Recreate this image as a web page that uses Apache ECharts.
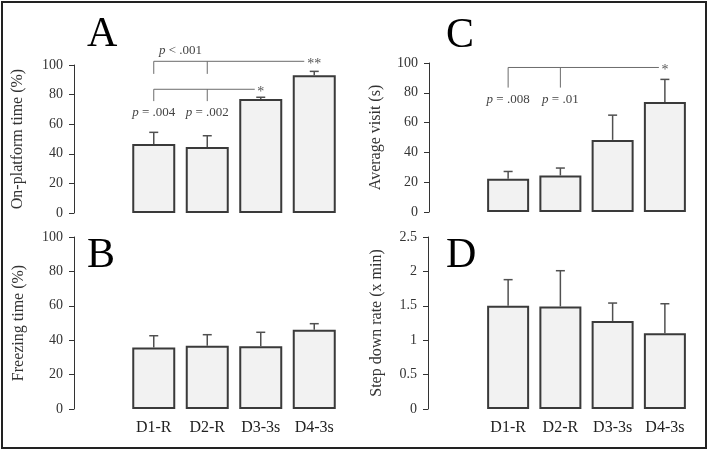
<!DOCTYPE html>
<html>
<head>
<meta charset="utf-8">
<script src="https://cdn.jsdelivr.net/npm/echarts@6/dist/echarts.min.js"></script>
<style>
  html, body { margin: 0; padding: 0; background: #fff; }
  #main { width: 709px; height: 452px; }
</style>
</head>
<body>
<div id="main"></div>
<script>
// data
var categories = ['D1-R', 'D2-R', 'D3-3s', 'D4-3s'];

var onPlatform = [46.6, 44.6, 77.0, 93.0];     // A
var onPlatformErr = [54.5, 52.2, 78.2, 95.7];
var freezing = [35.7, 36.8, 36.5, 46.1];       // B
var freezingErr = [42.6, 43.2, 44.6, 49.6];
var avgVisit = [22.3, 24.5, 48.4, 73.9];       // C
var avgVisitErr = [27.2, 29.5, 65.0, 89.0];
var stepDown = [1.50, 1.49, 1.28, 1.10];       // D
var stepDownErr = [1.88, 2.01, 1.54, 1.53];

var ticksPct = [0, 20, 40, 60, 80, 100];
var ticksRate = [0, 0.5, 1, 1.5, 2, 2.5];

// significance brackets: [fromCat, midCat, toCat, level, dropTo]
var bracketA = [[0, 1, 3, 102.5, 94], [0, 1, 2, 83.6, 75.6]];
var bracketMarkA = ['**', '*'];
var bracketC = [[0, 1, 3, 97, 83.5]];
var bracketMarkC = ['*'];
// p value labels: [catA, catB, level] -> centred between the two categories
var pPosA = [[0, 1, 109.5], [0, 0, 68], [1, 1, 68]];
var pTextA = ['p < .001', 'p = .004', 'p = .002'];
var pPosC = [[0, 0, 75.2], [1, 1, 75.2]];
var pTextC = ['p = .008', 'p = .01'];

var serif = '"Liberation Serif", "Times New Roman", serif';
var myChart = echarts.init(document.getElementById('main'));

function errData(vals, errs) {
  return vals.map(function (v, i) { return [i, v, errs[i]]; });
}

function errorItem(params, api) {
  var lo = api.coord([api.value(0), api.value(1)]);
  var hi = api.coord([api.value(0), api.value(2)]);
  var st = { stroke: '#505050', lineWidth: 1.5 };
  return {
    type: 'group',
    children: [
      { type: 'line', shape: { x1: lo[0], y1: lo[1], x2: hi[0], y2: hi[1] }, style: st },
      { type: 'line', shape: { x1: hi[0] - 4.5, y1: hi[1], x2: hi[0] + 4.5, y2: hi[1] }, style: st }
    ]
  };
}

function bracketItem(marks) {
  return function (params, api) {
    var a = api.coord([api.value(0), api.value(3)]);
    var m = api.coord([api.value(1), api.value(3)]);
    var b = api.coord([api.value(2), api.value(3)]);
    var d = api.coord([api.value(0), api.value(4)]);
    var mark = marks[params.dataIndex];
    var st = { stroke: '#6b6b6b', lineWidth: 1 };
    return {
      type: 'group',
      children: [
        { type: 'line', shape: { x1: a[0], y1: a[1], x2: b[0] - (mark.length * 4 + 2), y2: a[1] }, style: st },
        { type: 'line', shape: { x1: a[0], y1: a[1], x2: a[0], y2: d[1] }, style: st },
        { type: 'line', shape: { x1: m[0], y1: a[1], x2: m[0], y2: d[1] }, style: st },
        { type: 'text', style: { text: mark, x: b[0], y: a[1] + 3, align: 'center', verticalAlign: 'middle',
            fill: '#555', font: '14px ' + serif } }
      ]
    };
  };
}

function pItem(texts) {
  return function (params, api) {
    var p1 = api.coord([api.value(0), api.value(2)]);
    var p2 = api.coord([api.value(1), api.value(2)]);
    var t = texts[params.dataIndex].replace(/^p/, '{i|p}');
    return {
      type: 'text',
      style: {
        text: t, x: (p1[0] + p2[0]) / 2, y: p1[1], align: 'center', verticalAlign: 'middle',
        fill: '#444', font: '13px ' + serif,
        rich: { i: { fontStyle: 'italic', fontFamily: serif, fontSize: 13, fill: '#444' } }
      }
    };
  };
}

function yAxis(idx, name, ticks, gap, offset) {
  return {
    type: 'value', gridIndex: idx, min: ticks[0], max: ticks[ticks.length - 1],
    interval: ticks[1] - ticks[0], offset: offset,
    name: name, nameLocation: 'middle', nameGap: gap,
    nameTextStyle: { fontFamily: serif, fontSize: 16, color: '#333' },
    axisLine: { show: true, lineStyle: { color: '#333', width: 1 } },
    axisTick: { show: true, length: 5, lineStyle: { color: '#333' } },
    axisLabel: { margin: 11, fontFamily: serif, fontSize: 14, color: '#333' },
    splitLine: { show: false }
  };
}

function xAxis(idx, labels) {
  return {
    type: 'category', gridIndex: idx, data: categories,
    axisLine: { show: false }, axisTick: { show: false }, splitLine: { show: false },
    axisLabel: { show: labels, margin: 11, fontFamily: serif, fontSize: 16, color: '#222' }
  };
}

function bars(idx, vals, w) {
  return {
    type: 'bar', xAxisIndex: idx, yAxisIndex: idx, data: vals, barWidth: w,
    itemStyle: { color: '#f2f2f2', borderColor: '#3a3a3a', borderWidth: 2 },
    z: 2
  };
}

function errs(idx, vals, e) {
  return {
    type: 'custom', xAxisIndex: idx, yAxisIndex: idx, data: errData(vals, e),
    renderItem: errorItem, encode: { x: 0, y: [1, 2] }, z: 3
  };
}

function panelLetter(txt, x, y) {
  return { type: 'text', left: x, top: y,
    style: { text: txt, font: '42px ' + serif, fill: '#000' } };
}

myChart.setOption({
  animation: false,
  grid: [
    { left: 127, width: 214, top: 65, height: 148 },
    { left: 127, width: 214, top: 237, height: 172 },
    { left: 482, width: 209, top: 63, height: 149 },
    { left: 482, width: 209, top: 237, height: 172 }
  ],
  xAxis: [xAxis(0, false), xAxis(1, true), xAxis(2, false), xAxis(3, true)],
  yAxis: [
    yAxis(0, 'On-platform time (%)', ticksPct, 48, 53),
    yAxis(1, 'Freezing time (%)', ticksPct, 47, 53),
    yAxis(2, 'Average visit (s)', ticksPct, 45, 53),
    yAxis(3, 'Step down rate (x min)', ticksRate, 43, 54)
  ],
  graphic: [
    { type: 'rect', shape: { x: 2, y: 2, width: 704, height: 446 },
      style: { fill: 'none', stroke: '#222', lineWidth: 2 } },
    panelLetter('A', 87, 14),
    panelLetter('B', 87, 235),
    panelLetter('C', 446, 15),
    panelLetter('D', 446, 235)
  ],
  series: [
    bars(0, onPlatform, 43), errs(0, onPlatform, onPlatformErr),
    bars(1, freezing, 43), errs(1, freezing, freezingErr),
    bars(2, avgVisit, 42), errs(2, avgVisit, avgVisitErr),
    bars(3, stepDown, 42), errs(3, stepDown, stepDownErr),
    { type: 'custom', xAxisIndex: 0, yAxisIndex: 0, data: bracketA,
      renderItem: bracketItem(bracketMarkA), z: 4, clip: false },
    { type: 'custom', xAxisIndex: 0, yAxisIndex: 0, data: pPosA,
      renderItem: pItem(pTextA), z: 4, clip: false },
    { type: 'custom', xAxisIndex: 2, yAxisIndex: 2, data: bracketC,
      renderItem: bracketItem(bracketMarkC), z: 4, clip: false },
    { type: 'custom', xAxisIndex: 2, yAxisIndex: 2, data: pPosC,
      renderItem: pItem(pTextC), z: 4, clip: false }
  ]
});
</script>
</body>
</html>
